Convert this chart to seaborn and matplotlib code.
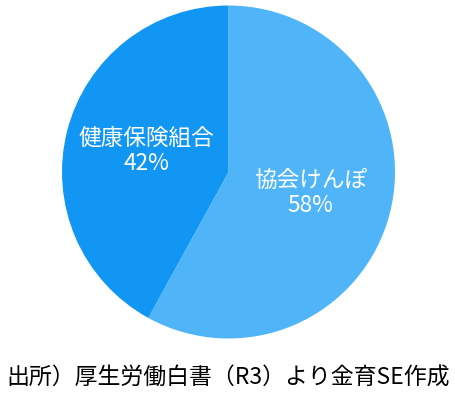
import matplotlib
matplotlib.use("Agg")
import matplotlib.pyplot as plt
import seaborn as sns

categories = ["協会けんぽ", "健康保険組合"]
values = [58, 42]
colors = ["#4fb5f8", "#1296f4"]
caption = "出所）厚生労働白書（R3）より金育SE作成"

sns.set_style("white")
plt.rcParams['font.family'] = ['Noto Sans CJK JP', 'DejaVu Sans']

W, H = 456, 397
fig = plt.figure(figsize=(W / 100, H / 100), dpi=100)
cx, cy, R = 228.5, 172, 166.5
ax = fig.add_axes([(cx - R) / W, (H - cy - R) / H, 2 * R / W, 2 * R / H])

labels = [f"{c}\n{v}%" for c, v in zip(categories, values)]
ax.pie(values, labels=labels, colors=colors, startangle=90, counterclock=False,
       labeldistance=0.51, radius=1,
       wedgeprops=dict(linewidth=0),
       textprops=dict(color="white", fontsize=16.3, ha="center", va="center",
                      linespacing=1.08))
ax.set_xlim(-1, 1)
ax.set_ylim(-1, 1)
ax.set_aspect("equal")
ax.axis("off")

fig.text(228 / W, 1 - 378 / H, caption, ha="center", va="center",
         fontsize=16.5, color="black")

fig.savefig("out.png", dpi=100)
